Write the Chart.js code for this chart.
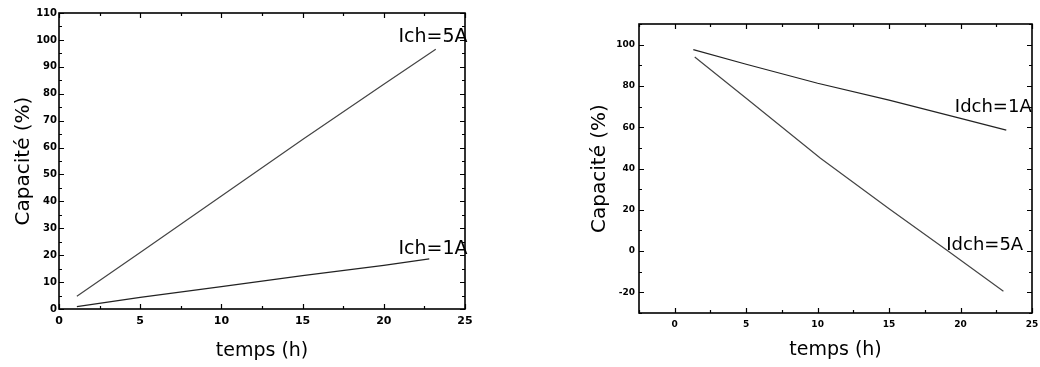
<!DOCTYPE html>
<html>
<head>
<meta charset="utf-8">
<script src="https://cdn.jsdelivr.net/npm/chart.js@4"></script>
<style>
    html, body { margin: 0; padding: 0; background: #fff; }
    #wrap { position: relative; width: 1040px; height: 367px; }
    .panel { position: absolute; top: 0; width: 520px; height: 367px; }
</style>
</head>
<body>
<div id="wrap">
    <div class="panel" style="left:0"><canvas id="chargeChart"></canvas></div>
    <div class="panel" style="left:520px"><canvas id="dischargeChart"></canvas></div>
</div>
<script>
// Charge (left panel)
const chargeTime5A = [1.1, 5, 10, 15, 20, 23.2];
const chargeCap5A = [4.7, 21, 42, 63, 83.5, 96.5];
const chargeTime1A = [1.1, 5, 10, 15, 20, 22.8];
const chargeCap1A = [0.9, 4.3, 8.3, 12.4, 16.2, 18.6];

// Discharge (right panel)
const dischargeTime1A = [1.3, 5, 10, 15, 20, 23.2];
const dischargeCap1A = [97.6, 90.5, 81.3, 73.1, 64.3, 58.6];
const dischargeTime5A = [1.4, 5, 10.2, 15, 19, 23.0];
const dischargeCap5A = [94, 74, 45, 20.5, 0.6, -19.5];

// Axis ranges / tick steps: [min, max, step]
const chargeXTicks = [0, 25, 5];
const chargeYTicks = [0, 110, 10];
const dischargeXTicks = [-2.5, 25, 5];
const dischargeYTicks = [-30, 110, 20];

const INK = '#000';
const FONT = 'DejaVu Sans';

function toPoints(xs, ys) {
    return xs.map((x, i) => ({ x: x, y: ys[i] }));
}

// Ticks at every multiple of step inside [min, max]
function stepTicks(scale, range) {
    const [min, max, step] = range;
    const out = [];
    for (let v = Math.ceil(min / step) * step; v <= max + 1e-9; v += step) {
        out.push({ value: Math.round(v * 1000) / 1000 });
    }
    scale.ticks = out;
}

// Box frame with inward major/minor ticks on all four sides
const frameTicks = {
    id: 'frameTicks',
    afterDraw(chart, args, opts) {
        const { ctx, chartArea: a, scales } = chart;
        ctx.save();
        ctx.strokeStyle = INK;
        ctx.lineWidth = 1.6;
        ctx.strokeRect(a.left, a.top, a.right - a.left, a.bottom - a.top);

        ctx.lineWidth = 1.2;
        const drawAxis = (scale, minor, horizontal) => {
            const start = Math.ceil(scale.min / minor) * minor;
            for (let v = start; v <= scale.max + 1e-9; v += minor) {
                const p = Math.round(scale.getPixelForValue(v)) + 0.5;
                const major = Math.abs(v / (minor * 2) - Math.round(v / (minor * 2))) < 1e-6;
                const len = major ? 5 : 3;
                ctx.beginPath();
                if (horizontal) {
                    ctx.moveTo(p, a.bottom); ctx.lineTo(p, a.bottom - len);
                    ctx.moveTo(p, a.top); ctx.lineTo(p, a.top + len);
                } else {
                    ctx.moveTo(a.left, p); ctx.lineTo(a.left + len, p);
                    ctx.moveTo(a.right, p); ctx.lineTo(a.right - len, p);
                }
                ctx.stroke();
            }
        };
        drawAxis(scales.x, opts.xMinor, true);
        drawAxis(scales.y, opts.yMinor, false);
        ctx.restore();
    }
};

// Curve labels placed in data coordinates
const curveLabels = {
    id: 'curveLabels',
    afterDatasetsDraw(chart, args, opts) {
        const { ctx, scales } = chart;
        ctx.save();
        ctx.fillStyle = INK;
        ctx.font = opts.size + 'px "' + FONT + '"';
        ctx.textAlign = 'left';
        ctx.textBaseline = 'middle';
        (opts.items || []).forEach(item => {
            ctx.fillText(item.text, scales.x.getPixelForValue(item.x), scales.y.getPixelForValue(item.y));
        });
        ctx.restore();
    }
};

function makeChart(id, cfg) {
    const ctx = document.getElementById(id).getContext('2d');

    return new Chart(ctx, {
        type: 'scatter',
        data: {
            datasets: cfg.series.map(s => ({
                data: s.data,
                showLine: true,
                borderColor: s.color,
                borderWidth: 1.2,
                pointRadius: 0,
                fill: false,
                tension: 0
            }))
        },
        options: {
            responsive: true,
            maintainAspectRatio: false,
            animation: false,
            events: [],
            layout: { padding: cfg.padding },
            plugins: {
                legend: { display: false },
                tooltip: { enabled: false },
                frameTicks: { xMinor: cfg.xMinor, yMinor: cfg.yMinor },
                curveLabels: { items: cfg.labels, size: cfg.labelSize }
            },
            scales: {
                x: {
                    type: 'linear',
                    min: cfg.xTicks[0],
                    max: cfg.xTicks[1],
                    grid: { display: false, drawTicks: false },
                    border: { display: false },
                    ticks: {
                        padding: cfg.xPad,
                        color: INK,
                        font: { family: FONT, weight: 'bold', size: cfg.xTickSize },
                        maxRotation: 0
                    },
                    title: { display: true, text: 'temps (h)', color: INK, font: { family: FONT, size: 19 }, padding: 0 },
                    afterBuildTicks: s => stepTicks(s, cfg.xTicks),
                    afterFit: s => { s.height = cfg.xHeight; s.paddingLeft = 0; s.paddingRight = 0; }
                },
                y: {
                    type: 'linear',
                    min: cfg.yTicks[0],
                    max: cfg.yTicks[1],
                    grid: { display: false, drawTicks: false },
                    border: { display: false },
                    ticks: {
                        padding: cfg.yPad,
                        color: INK,
                        font: { family: FONT, weight: 'bold', size: cfg.yTickSize }
                    },
                    title: { display: true, text: 'Capacité (%)', color: INK, font: { family: FONT, size: 20 }, padding: 0 },
                    afterBuildTicks: s => stepTicks(s, cfg.yTicks),
                    afterFit: s => { s.width = cfg.yWidth; s.paddingTop = 0; s.paddingBottom = 0; }
                }
            }
        },
        plugins: [frameTicks, curveLabels]
    });
}

document.addEventListener('DOMContentLoaded', () => {
    makeChart('chargeChart', {
        series: [
            { data: toPoints(chargeTime5A, chargeCap5A), color: '#444' },
            { data: toPoints(chargeTime1A, chargeCap1A), color: '#222' }
        ],
        xTicks: chargeXTicks,
        yTicks: chargeYTicks,
        xMinor: 2.5,
        yMinor: 5,
        xTickSize: 11,
        yTickSize: 10,
        xPad: 6,
        yPad: 2,
        padding: { left: 12, top: 13, right: 55, bottom: 5 },
        xHeight: 53,
        yWidth: 47,
        labelSize: 19,
        labels: [
            { text: 'Ich=5A', x: 20.9, y: 101.2 },
            { text: 'Ich=1A', x: 20.9, y: 22.4 }
        ]
    });

    makeChart('dischargeChart', {
        series: [
            { data: toPoints(dischargeTime1A, dischargeCap1A), color: '#222' },
            { data: toPoints(dischargeTime5A, dischargeCap5A), color: '#444' }
        ],
        xTicks: dischargeXTicks,
        yTicks: dischargeYTicks,
        xMinor: 2.5,
        yMinor: 10,
        xTickSize: 9,
        yTickSize: 9,
        xPad: 6,
        yPad: 4,
        padding: { left: 68, top: 24, right: 8, bottom: 6 },
        xHeight: 48,
        yWidth: 51,
        labelSize: 18,
        labels: [
            { text: 'Idch=1A', x: 19.6, y: 69.5 },
            { text: 'Idch=5A', x: 19.0, y: 2.7 }
        ]
    });
});
</script>
</body>
</html>
